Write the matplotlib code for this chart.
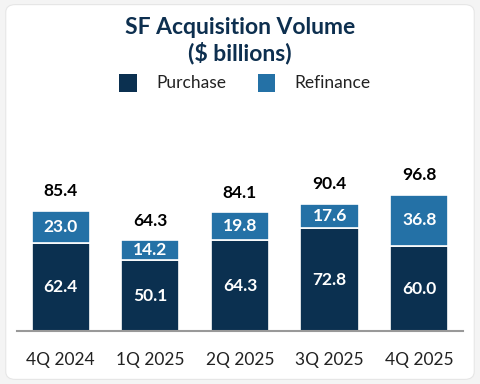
import matplotlib.pyplot as plt
from matplotlib.patches import FancyBboxPatch, Rectangle

# Quarterly single-family acquisition volume ($ billions)
quarters = ["4Q 2024", "1Q 2025", "2Q 2025", "3Q 2025", "4Q 2025"]
purchase = [62.4, 50.1, 64.3, 72.8, 60.0]
refinance = [23.0, 14.2, 19.8, 17.6, 36.8]
totals = [85.4, 64.3, 84.1, 90.4, 96.8]

navy = "#0b3050"
blue = "#2471a6"
title_color = "#0d2f4f"

plt.rcParams['font.family'] = ['Lato', 'DejaVu Sans']

fig = plt.figure(figsize=(4.8, 3.84), dpi=100)
fig.patch.set_facecolor("#f4f4f4")

# white rounded card behind everything
card = FancyBboxPatch((0.012, 0.012), 0.976, 0.976,
                      boxstyle="round,pad=0,rounding_size=0.02",
                      transform=fig.transFigure, facecolor="white",
                      edgecolor="#e6e6e6", linewidth=0.8, zorder=-5)
fig.patches.append(card)

ax = fig.add_axes([0.035, 0.138, 0.929, 0.47])
ax.set_facecolor("none")
ax.set_zorder(2)

x = range(len(quarters))
ax.bar(x, purchase, width=0.65, color=navy, edgecolor="white", linewidth=1.2)
ax.bar(x, refinance, width=0.65, bottom=purchase, color=blue,
       edgecolor="white", linewidth=1.2)

for i in x:
    ax.text(i, purchase[i] / 2, f"{purchase[i]:.1f}", ha="center", va="center",
            color="white", fontsize=12.5, fontweight="bold")
    ax.text(i, purchase[i] + refinance[i] / 2, f"{refinance[i]:.1f}",
            ha="center", va="center", color="white", fontsize=12.5,
            fontweight="bold")
    ax.text(i, purchase[i] + refinance[i] + 14, f"{totals[i]:.1f}",
            ha="center", va="center", color="black", fontsize=12.5,
            fontweight="bold")

ax.set_xlim(-0.49, 4.485)
ax.set_ylim(0, 128)
ax.set_xticks(list(x))
ax.set_xticklabels(quarters, fontsize=12.5, color="#222222")
ax.tick_params(axis="x", length=0, pad=15)
ax.set_yticks([])
for s in ["top", "right", "left"]:
    ax.spines[s].set_visible(False)
ax.spines["bottom"].set_color("#999999")
ax.spines["bottom"].set_linewidth(1.5)

fig.text(0.5, 0.928, "SF Acquisition Volume", ha="center", va="center",
         fontsize=16.5, fontweight="bold", color=title_color)
fig.text(0.5, 0.862, "($ billions)", ha="center", va="center",
         fontsize=16.5, fontweight="bold", color=title_color)

# legend drawn by hand to match the spacing
fig.patches.append(Rectangle((0.248, 0.76), 0.037, 0.046, transform=fig.transFigure,
                             facecolor=navy, edgecolor="none"))
fig.text(0.326, 0.784, "Purchase", ha="left", va="center", fontsize=12.5,
         color="#222222")
fig.patches.append(Rectangle((0.538, 0.76), 0.034, 0.046, transform=fig.transFigure,
                             facecolor=blue, edgecolor="none"))
fig.text(0.614, 0.784, "Refinance", ha="left", va="center", fontsize=12.5,
         color="#222222")

fig.savefig("out.png", dpi=100, facecolor=fig.get_facecolor())
